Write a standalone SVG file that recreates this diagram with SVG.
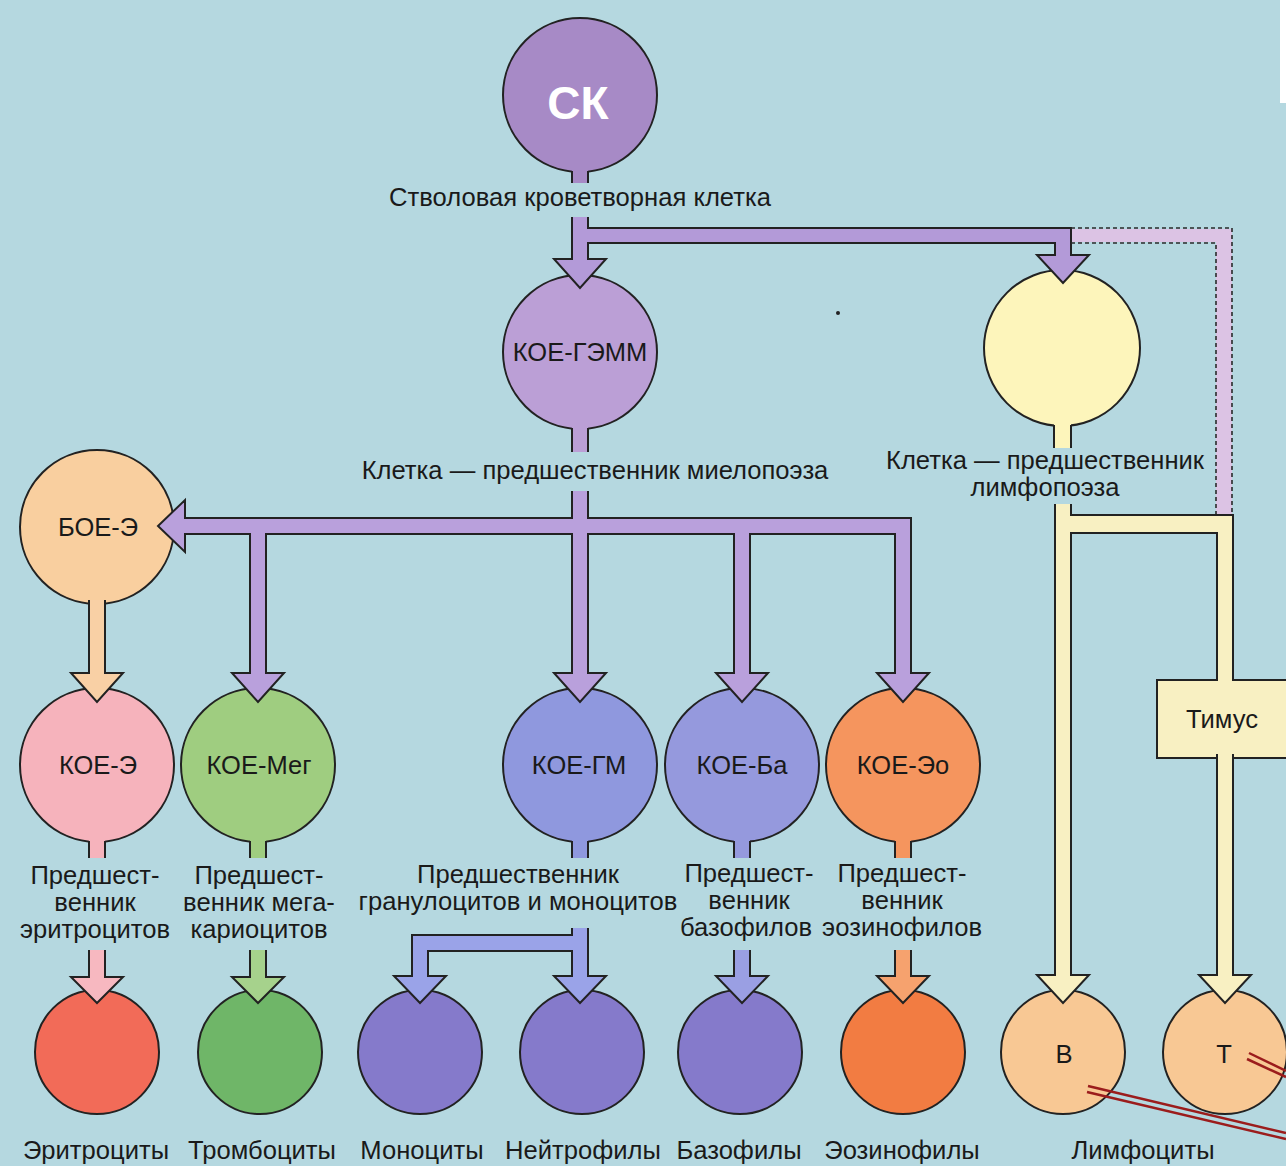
<svg xmlns="http://www.w3.org/2000/svg" width="1286" height="1166" viewBox="0 0 1286 1166">
<style>
.t{font-family:"Liberation Sans",Arial,sans-serif;font-size:25.6px;fill:#1a1a1a;text-anchor:middle}
.n{font-size:25.5px}
.c{stroke:#222;stroke-width:2}
.a{stroke:#222;stroke-width:2;stroke-linejoin:miter}
.ln{fill:none;stroke:#222;stroke-width:2}
.dash{fill:none;stroke:#2a2a2a;stroke-width:1.6;stroke-dasharray:4 3}
</style>
<rect width="1286" height="1166" fill="#b5d8e0"/>
<rect x="1280" y="0" width="6" height="103" fill="#ffffff"/>
<circle cx="838" cy="313" r="2" fill="#222"/>

<g id="node-SK">
  <circle class="c" cx="580" cy="95" r="77" fill="#a78ac6"/>
  <text x="578" y="119" style="font-family:'Liberation Sans',Arial,sans-serif;font-weight:bold;font-size:46px;fill:#fff;text-anchor:middle">СК</text>
  <text class="t" x="580" y="206">Стволовая кроветворная клетка</text>
</g>
<g id="node-KOE-GEMM">
  <circle class="c" cx="580" cy="352" r="77" fill="#bb9fd6"/>
  <text class="t n" x="580" y="361">КОЕ-ГЭММ</text>
  <text class="t" x="595" y="479">Клетка — предшественник миелопоэза</text>
</g>
<g id="node-lymph">
  <circle class="c" cx="1062" cy="348" r="78" fill="#fdf5bb"/>
  <text class="t" x="1045" y="469">Клетка — предшественник</text>
  <text class="t" x="1045" y="496">лимфопоэза</text>
</g>
<g id="node-BOE-E">
  <circle class="c" cx="97" cy="527" r="77" fill="#f9cf9f"/>
  <text class="t n" x="98" y="536">БОЕ-Э</text>
</g>
<g id="node-KOE-E">
  <circle class="c" cx="97" cy="765" r="77" fill="#f6b3bc"/>
  <text class="t n" x="98" y="774">КОЕ-Э</text>
  <text class="t" x="95" y="884">Предшест-</text>
  <text class="t" x="95" y="911">венник</text>
  <text class="t" x="95" y="938">эритроцитов</text>
</g>
<g id="node-KOE-Meg">
  <circle class="c" cx="258" cy="765" r="77" fill="#9fcd80"/>
  <text class="t n" x="259" y="774">КОЕ-Мег</text>
  <text class="t" x="259" y="884">Предшест-</text>
  <text class="t" x="259" y="911">венник мега-</text>
  <text class="t" x="259" y="938">кариоцитов</text>
</g>
<g id="node-KOE-GM">
  <circle class="c" cx="580" cy="765" r="77" fill="#8f98de"/>
  <text class="t n" x="579" y="774">КОЕ-ГМ</text>
  <text class="t" x="518" y="883">Предшественник</text>
  <text class="t" x="518" y="910">гранулоцитов и моноцитов</text>
</g>
<g id="node-KOE-Ba">
  <circle class="c" cx="742" cy="765" r="77" fill="#9599dd"/>
  <text class="t n" x="742" y="774">КОЕ-Ба</text>
  <text class="t" x="749" y="882">Предшест-</text>
  <text class="t" x="749" y="909">венник</text>
  <text class="t" x="746" y="936">базофилов</text>
</g>
<g id="node-KOE-Eo">
  <circle class="c" cx="903" cy="765" r="77" fill="#f5955e"/>
  <text class="t n" x="903" y="774">КОЕ-Эо</text>
  <text class="t" x="902" y="882">Предшест-</text>
  <text class="t" x="902" y="909">венник</text>
  <text class="t" x="902" y="936">эозинофилов</text>
</g>
<g id="node-erythro">
  <circle class="c" cx="97" cy="1052" r="62" fill="#f26b58"/>
  <text class="t" x="96" y="1159">Эритроциты</text>
</g>
<g id="node-thrombo">
  <circle class="c" cx="260" cy="1052" r="62" fill="#6fb668"/>
  <text class="t" x="262" y="1159">Тромбоциты</text>
</g>
<g id="node-mono">
  <circle class="c" cx="420" cy="1052" r="62" fill="#857acb"/>
  <text class="t" x="422" y="1159">Моноциты</text>
</g>
<g id="node-neutro">
  <circle class="c" cx="582" cy="1052" r="62" fill="#857acb"/>
  <text class="t" x="583" y="1159">Нейтрофилы</text>
</g>
<g id="node-baso">
  <circle class="c" cx="740" cy="1052" r="62" fill="#857acb"/>
  <text class="t" x="739" y="1159">Базофилы</text>
</g>
<g id="node-eos">
  <circle class="c" cx="903" cy="1052" r="62" fill="#f27c42"/>
  <text class="t" x="902" y="1159">Эозинофилы</text>
</g>
<g id="node-B">
  <circle class="c" cx="1063" cy="1052" r="62" fill="#f8c894"/>
  <text class="t" x="1064" y="1063">B</text>
</g>
<g id="node-T">
  <circle class="c" cx="1225" cy="1052" r="62" fill="#f8c894"/>
  <text class="t" x="1224" y="1063">T</text>
</g>
<g id="node-thymus">
  <rect class="c" x="1157" y="680" width="140" height="78" fill="#f8f0c2"/>
  <text class="t" x="1222" y="728">Тимус</text>
</g>
<text class="t" x="1143" y="1159">Лимфоциты</text>

<g id="connectors">
  <rect x="572" y="166" width="16" height="17" fill="#a78ac6"/>
  <path class="ln" d="M572,171 V183 M588,171 V183"/>
  <rect x="572" y="423" width="16" height="29" fill="#bb9fd6"/>
  <path class="ln" d="M572,428 V452 M588,428 V452"/>
  <rect x="1054" y="420" width="17" height="28" fill="#fdf5bb"/>
  <path class="ln" d="M1054,425 V448 M1071,425 V448"/>
  <rect x="89" y="836" width="16" height="22" fill="#f6b3bc"/>
  <path class="ln" d="M89,841 V858 M105,841 V858"/>
  <rect x="250" y="836" width="16" height="22" fill="#9fcd80"/>
  <path class="ln" d="M250,841 V858 M266,841 V858"/>
  <rect x="572" y="836" width="16" height="22" fill="#8f98de"/>
  <path class="ln" d="M572,841 V858 M588,841 V858"/>
  <rect x="734" y="836" width="16" height="22" fill="#9599dd"/>
  <path class="ln" d="M734,841 V858 M750,841 V858"/>
  <rect x="895" y="836" width="16" height="22" fill="#f5955e"/>
  <path class="ln" d="M895,841 V858 M911,841 V858"/>

  <path class="a" fill="#b39ad8" d="M572,217 V259 H554 L580,288 L606,259 H588 V243 H1055 V255 H1037 L1063,283 L1089,255 H1071 V228 H588 V217"/>
  <polygon points="1072,229 1232,229 1232,515 1216,515 1216,242 1072,242" fill="#dcc3e4"/>
  <path class="dash" d="M1071,228 H1232 V515 M1216,515 V243 H1071"/>

  <path class="a" fill="#b9a0dc" d="M572,491 V518 H185 V500 L158,526 L185,552 V534 H250 V673 H232 L258,702 L284,673 H266 V534 H572 V673 H554 L580,702 L606,673 H588 V534 H734 V673 H716 L742,702 L768,673 H750 V534 H895 V673 H877 L903,702 L929,673 H911 V518 H588 V491"/>

  <path class="a" fill="#f9d0a5" d="M89,600 V673 H71 L97,702 L123,673 H105 V600"/>

  <path class="a" fill="#f7b8c0" d="M89,950 V977 H71 L97,1003 L123,977 H105 V950"/>
  <path class="a" fill="#a6d28c" d="M250,950 V977 H232 L258,1003 L284,977 H266 V950"/>
  <path class="a" fill="#9aa3e8" d="M572,928 V935 H412 V976 H394 L420,1003 L446,976 H428 V951 H572 V976 H554 L580,1003 L606,976 H588 V928"/>
  <path class="a" fill="#9a9fe3" d="M734,950 V976 H716 L742,1003 L768,976 H750 V950"/>
  <path class="a" fill="#f6a26e" d="M895,950 V976 H877 L903,1003 L929,976 H911 V950"/>

  <polygon points="1055,504 1055,975 1037,975 1063,1003 1089,975 1071,975 1071,533 1217,533 1217,684 1233,684 1233,515 1071,515 1071,504" fill="#f8f0c2"/>
  <path class="ln" d="M1055,504 V975 H1037 L1063,1003 L1089,975 H1071 V533 H1217 V681 M1233,681 V515 H1071 V504"/>
  <path class="a" fill="#f8f0c2" d="M1217,754 V975 H1199 L1225,1003 L1251,975 H1233 V754"/>
</g>

<g id="red-lines" stroke="#9b1c1c" stroke-width="2.5" fill="none">
  <line x1="1088" y1="1086" x2="1286" y2="1133"/>
  <line x1="1087" y1="1092" x2="1286" y2="1139"/>
  <line x1="1249" y1="1053" x2="1286" y2="1071"/>
  <line x1="1247" y1="1059" x2="1286" y2="1077"/>
</g>
</svg>
